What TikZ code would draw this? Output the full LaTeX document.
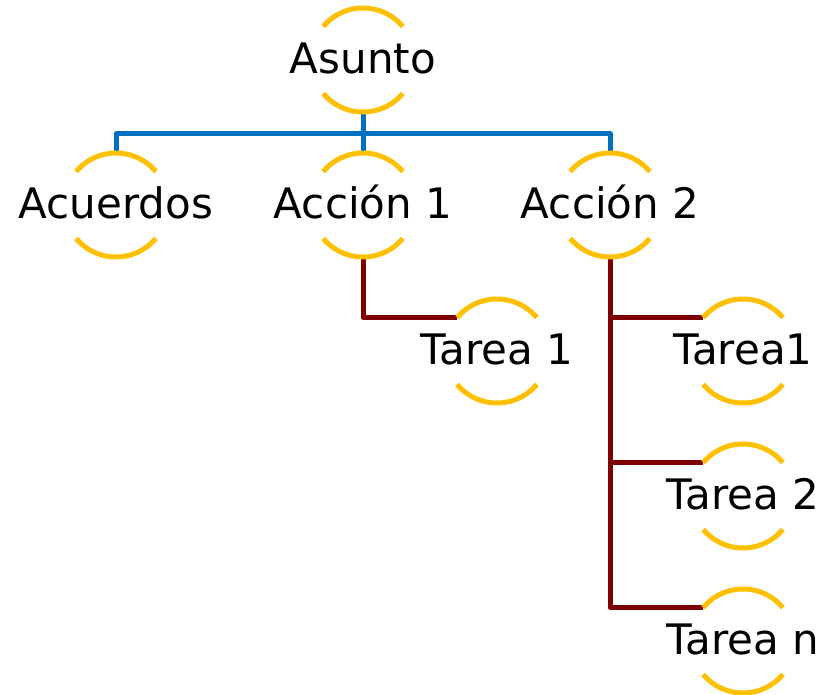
\documentclass[tikz,border=0pt]{standalone}
\usepackage{fontspec}
\setmainfont{DejaVu Sans}
\definecolor{ringyellow}{HTML}{FFC000}
\definecolor{lineblue}{HTML}{0070C0}
\definecolor{linered}{HTML}{7F0000}
\tikzset{
  ring/.style={circle, minimum size=104pt, inner sep=0pt, outer sep=0pt},
  ringtext/.style={font=\fontsize{42}{50}\selectfont, text height=30.6pt, text depth=0pt, inner sep=0pt, yshift=2pt},
  arcline/.style={draw=ringyellow, line width=5pt},
  blueline/.style={draw=lineblue, line width=5pt, line join=round},
  redline/.style={draw=linered, line width=5pt, line join=round},
}
\newcommand{\ringarcs}[1]{%
  \draw[arcline] (#1.140) arc[start angle=140, end angle=40, radius=52pt];
  \draw[arcline] (#1.220) arc[start angle=220, end angle=320, radius=52pt];
}
\begin{document}
\begin{tikzpicture}[x=1pt,y=1pt]
\useasboundingbox (0,0) rectangle (837,-695);
\node[ring, label={[ringtext]center:Asunto}] (asunto) at (363,-60) {};
\node[ring, label={[ringtext]center:Acuerdos}] (acuerdos) at (116,-205) {};
\node[ring, label={[ringtext]center:Acción 1}] (accion1) at (363,-205) {};
\node[ring, label={[ringtext]center:Acción 2}] (accion2) at (610,-205) {};
\node[ring, label={[ringtext]center:Tarea 1}] (tareaA) at (497,-351) {};
\node[ring, label={[ringtext]center:Tarea1}] (tareaB) at (743,-351) {};
\node[ring, label={[ringtext]center:Tarea 2}] (tareaC) at (743,-496) {};
\node[ring, label={[ringtext]center:Tarea n}] (tareaN) at (743,-641) {};
\draw[blueline] (acuerdos.north) -- ++(0,19) -| (accion2.north);
\draw[blueline] (asunto.south) -- (accion1.north);
\draw[redline] (accion1.south) |- (tareaA.140);
\draw[redline] (accion2.south) |- (tareaN.140);
\draw[redline] (accion2.south) |- (tareaB.140);
\draw[redline] (accion2.south) |- (tareaC.140);
\ringarcs{asunto}
\ringarcs{acuerdos}
\ringarcs{accion1}
\ringarcs{accion2}
\ringarcs{tareaA}
\ringarcs{tareaB}
\ringarcs{tareaC}
\ringarcs{tareaN}
\end{tikzpicture}
\end{document}
